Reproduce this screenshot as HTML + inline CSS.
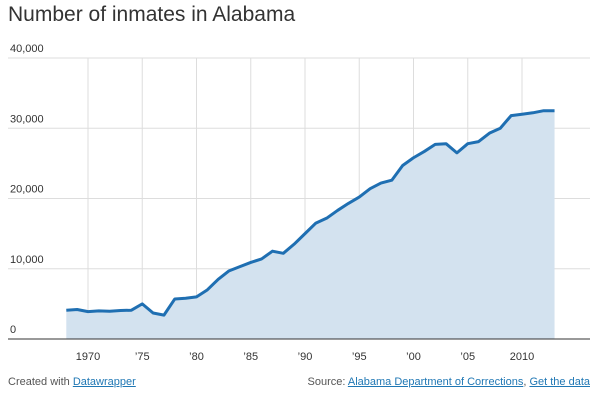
<!DOCTYPE html>
<html><head><meta charset="utf-8"><style>
body{margin:0;width:600px;height:408px;background:#fff;font-family:"Liberation Sans",sans-serif;overflow:hidden;position:relative}
#title{position:absolute;left:8px;top:3px;font-size:21px;color:#333;margin:0;font-weight:normal}
.foot{position:absolute;top:376px;font-size:11px;color:#555}
.foot a{color:#1f77b4;text-decoration:underline}
svg{position:absolute;left:0;top:0}
</style></head><body>
<h1 id="title">Number of inmates in Alabama</h1>
<svg id="chart" width="600" height="408"></svg>
<div class="foot" style="left:8px">Created with <a>Datawrapper</a></div>
<div class="foot" style="right:10px">Source: <a>Alabama Department of Corrections</a>, <a>Get the data</a></div>
<script>
const years=[1968,1969,1970,1971,1972,1973,1974,1975,1976,1977,1978,1979,1980,1981,1982,1983,1984,1985,1986,1987,1988,1989,1990,1991,1992,1993,1994,1995,1996,1997,1998,1999,2000,2001,2002,2003,2004,2005,2006,2007,2008,2009,2010,2011,2012,2013];
const inmates=[4100,4200,3900,4000,3950,4050,4100,5000,3700,3400,5700,5800,6000,7000,8500,9700,10300,10900,11400,12500,12200,13500,15000,16500,17200,18300,19300,20200,21400,22200,22600,24700,25800,26700,27700,27800,26500,27800,28100,29300,30000,31800,32000,32200,32500,32500];
const yTicks=[0,10000,20000,30000,40000];
const yTickLabels=["0","10,000","20,000","30,000","40,000"];
const xTicks=[1970,1975,1980,1985,1990,1995,2000,2005,2010];
const xTickLabels=["1970","’75","’80","’85","’90","’95","’00","’05","2010"];
const svg=document.getElementById('chart');const NS='http://www.w3.org/2000/svg';
const x=v=>88+(v-1970)*10.85;
const y=v=>339-v/10000*70.25;
function mk(t,a){const e=document.createElementNS(NS,t);for(const k in a)e.setAttribute(k,a[k]);svg.appendChild(e);return e;}
yTicks.forEach((t,i)=>{
 const l=mk('line',{x1:8,x2:590,y1:y(t),y2:y(t),stroke:t===0?'#333':'#ddd','stroke-width':1});
 
 
 const tx=mk('text',{x:10,y:y(t)-6,'font-size':11,fill:'#333'});tx.textContent=yTickLabels[i];
 
 
});
xTicks.forEach((t,i)=>{
 const l=mk('line',{x1:x(t),x2:x(t),y1:y(40000),y2:y(0),stroke:'#ddd','stroke-width':1});
 
 
 const tx=mk('text',{x:x(t),y:360,'font-size':11,fill:'#333','text-anchor':'middle'});tx.textContent=xTickLabels[i];
 
 
});
let pts=years.map((yr,i)=>x(yr)+','+y(inmates[i]));
const area=mk('polygon',{points:x(years[0])+','+y(0)+' '+pts.join(' ')+' '+x(years[years.length-1])+','+y(0),fill:'#d3e2ef'});


const base=mk('line',{x1:8,x2:590,y1:y(0),y2:y(0),stroke:'#333','stroke-width':1});


const line=mk('polyline',{points:pts.join(' '),fill:'none',stroke:'#1f6fb2','stroke-width':3,'stroke-linejoin':'round'});


</script>
</body></html>
